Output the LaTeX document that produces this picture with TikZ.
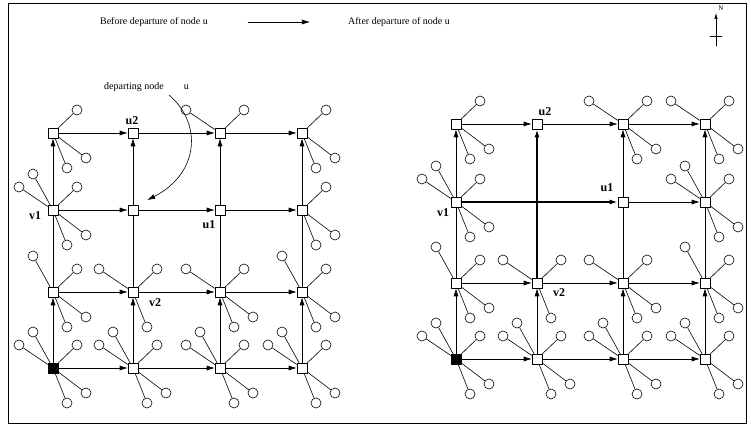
\documentclass[tikz,border=0pt]{standalone}
\usepackage{fontspec}
\setmainfont{Liberation Serif}
\usetikzlibrary{arrows.meta}

% one leaf sensor hung on a grid node
\newcommand{\leafat}[4]{%
  \node[leaf,xshift=#3,yshift=#4] (#1#2) at (#1) {};
  \draw[link] (#1) -- (#1#2);}

\begin{document}
\begin{tikzpicture}[x=1pt,y=1pt,line cap=round,line join=round,
    >={Latex[length=8pt,width=5pt]},
    relay/.style={draw,rectangle,fill=white,minimum size=10pt,inner sep=0pt,line width=0.6pt},
    sink/.style={relay,fill=black},
    leaf/.style={draw,circle,fill=white,minimum size=10pt,inner sep=0pt,line width=0.6pt},
    link/.style={line width=0.6pt},
    heavy/.style={line width=1.6pt},
    tag/.style={font=\bfseries\fontsize{12}{14}\selectfont,inner sep=0pt},
    txt/.style={font=\fontsize{10}{12}\selectfont,inner sep=0pt}]
  \useasboundingbox (0,0) rectangle (751,428);
  \draw[line width=0.6pt] (8,5) rectangle (746,425);

  % header
  \node[txt] (before) at (154,406) {Before departure of node u};
  \node[txt] (after) at (399,406) {After departure of node u};
  \draw[link,->,shorten <=40pt,shorten >=38pt] (before.east) -- (after.west);

  % compass
  \coordinate (cs) at (716,382);
  \coordinate (cn) at (716,415);
  \draw[link,-{Latex[length=6pt,width=3.5pt]}] (cs) -- (cn);
  \draw[link] (710,392) -- (722,392);
  \node[font=\fontsize{7}{8}\selectfont,inner sep=0pt] (north) at (721,420) {N};

  % grid before departure
  \foreach \i/\x in {0/53,1/133,2/220,3/302}
    \foreach \j/\y in {0/295,1/218,2/136,3/60}
      \node[relay] (L\i\j) at (\x,\y) {};
  \node[sink] (L03) at (53,60) {};

  \foreach \j in {0,...,3} {
    \draw[link,->] (L0\j) -- (L1\j);
    \draw[link,->] (L1\j) -- (L2\j);
    \draw[link,->] (L2\j) -- (L3\j);
  }
  \foreach \i in {0,...,3} {
    \draw[link,->] (L\i1) -- (L\i0);
    \draw[link] (L\i2) -- (L\i1);
    \draw[link,->] (L\i3) -- (L\i2);
  }

  % grid after departure
  \node[relay] (R00) at (456,304) {};
  \node[relay] (R10) at (537,304) {};
  \node[relay] (R20) at (623,304) {};
  \node[relay] (R30) at (705,304) {};
  \node[relay] (R01) at (456,226) {};
  \node[relay] (R21) at (623,226) {};
  \node[relay] (R31) at (705,226) {};
  \node[relay] (R02) at (456,145) {};
  \node[relay] (R12) at (537,145) {};
  \node[relay] (R22) at (623,145) {};
  \node[relay] (R32) at (705,145) {};
  \node[sink]  (R03) at (456,69) {};
  \node[relay] (R13) at (537,69) {};
  \node[relay] (R23) at (623,69) {};
  \node[relay] (R33) at (705,69) {};

  \foreach \j in {0,2,3} {
    \draw[link,->] (R0\j) -- (R1\j);
    \draw[link,->] (R1\j) -- (R2\j);
    \draw[link,->] (R2\j) -- (R3\j);
  }
  \draw[link,heavy,->] (R01) -- (R21);
  \draw[link,->] (R21) -- (R31);
  \foreach \i in {0,2,3} {
    \draw[link,->] (R\i1) -- (R\i0);
    \draw[link] (R\i2) -- (R\i1);
    \draw[link,->] (R\i3) -- (R\i2);
  }
  \draw[link,heavy,->] (R12) -- (R10);
  \draw[link,->] (R13) -- (R12);

  % leaves
  \foreach \n in {L01,L03,L13,L23,L33,R01,R31,R03,R13,R23,R33}
    \foreach \k/\dx/\dy in {a/-20/36,b/-34/23,c/24/23,d/33/-25,e/14/-35}
      {\leafat{\n}{\k}{\dx}{\dy}}
  \foreach \n in {L00,L30,L31,R00}
    \foreach \k/\dx/\dy in {c/24/23,d/33/-25,e/14/-35}
      {\leafat{\n}{\k}{\dx}{\dy}}
  \foreach \n in {L22,R20,R30,R22}
    \foreach \k/\dx/\dy in {b/-34/23,c/24/23,d/33/-25,e/14/-35}
      {\leafat{\n}{\k}{\dx}{\dy}}
  \foreach \n in {L02,L32,R02,R32}
    \foreach \k/\dx/\dy in {a/-20/36,c/24/23,d/33/-25,e/14/-35}
      {\leafat{\n}{\k}{\dx}{\dy}}
  \foreach \n in {L12,R12}
    \foreach \k/\dx/\dy in {b/-34/23,c/24/23,e/14/-35}
      {\leafat{\n}{\k}{\dx}{\dy}}
  \foreach \k/\dx/\dy in {b/-34/23,c/24/23}
    {\leafat{L20}{\k}{\dx}{\dy}}

  % labels
  \node[tag] (lu2) at (132,307) {u2};
  \node[tag] (lv1) at (35,212) {v1};
  \node[tag] (lu1) at (209,203) {u1};
  \node[tag] (lv2) at (155,125) {v2};
  \node[tag] (ru2) at (545,316) {u2};
  \node[tag] (rv1) at (443,215) {v1};
  \node[tag] (ru1) at (607,240) {u1};
  \node[tag] (rv2) at (559,135) {v2};

  % departing node
  \node[txt,anchor=west] (dep) at (104,341) {departing node\hspace{20pt}u};
  \coordinate (dtail) at (169,333);
  \draw[link,->,shorten >=10pt] (dtail) .. controls (202,305) and (200,255) .. (L11.north east);
\end{tikzpicture}
\end{document}
